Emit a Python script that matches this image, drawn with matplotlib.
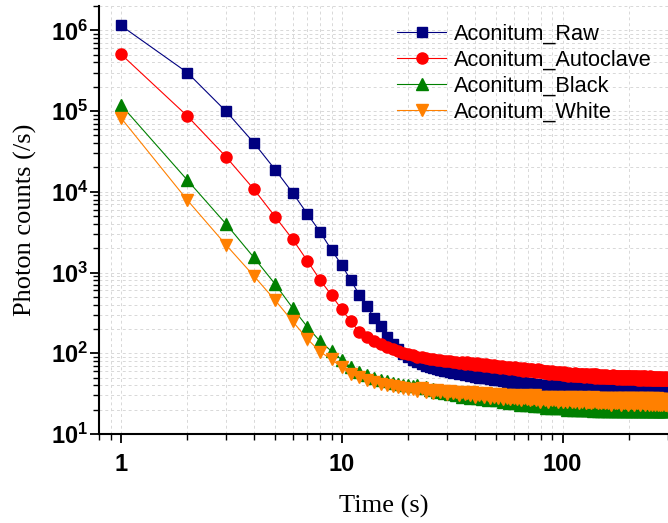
import numpy as np
import matplotlib
matplotlib.use('Agg')
import matplotlib.pyplot as plt
from matplotlib.ticker import LogLocator, FixedLocator, FixedFormatter, NullFormatter

plt.rcParams['mathtext.fontset'] = 'custom'
plt.rcParams['mathtext.bf'] = 'Liberation Sans:bold'
plt.rcParams['mathtext.rm'] = 'Liberation Sans'

# time in seconds, one reading per second
time_s = np.arange(1, 301)

raw = [
    1150000, 300000, 99000, 40600, 18800, 9700, 5300, 3160, 1900, 1240,
    804, 533, 381, 275, 215, 161, 131, 113, 98, 89,
    82, 77, 73, 70, 67, 65, 63, 62, 61, 60,
    59, 57, 58, 55, 57, 54, 55, 53, 54, 51,
    53, 50, 52, 49, 51, 50, 48, 50, 47, 49,
    46, 48, 47, 45, 47, 44, 46, 45, 43, 45,
    44, 42, 45, 43, 42, 44, 41, 43, 42, 41,
    43, 40, 42, 41, 40, 42, 39, 41, 40, 39,
    41, 39, 40, 38, 41, 39, 38, 40, 39, 38,
    40, 38, 39, 37, 39, 38, 37, 39, 38, 37,
    39, 37, 38, 36, 38, 37, 36, 38, 37, 36,
    38, 36, 37, 35, 37, 36, 38, 36, 35, 37,
    36, 35, 37, 36, 34, 36, 35, 37, 35, 36,
    34, 36, 35, 37, 35, 34, 36, 35, 34, 36,
    35, 36, 34, 35, 33, 35, 36, 34, 35, 33,
    35, 34, 36, 34, 33, 35, 34, 35, 33, 34,
    36, 34, 33, 35, 34, 33, 35, 34, 36, 33,
    34, 35, 33, 34, 32, 34, 35, 33, 34, 33,
    35, 33, 34, 32, 34, 35, 33, 34, 33, 35,
    33, 34, 32, 34, 35, 33, 32, 34, 33, 35,
    34, 32, 33, 35, 33, 34, 32, 33, 35, 33,
    32, 34, 33, 35, 32, 33, 34, 32, 33, 35,
    33, 32, 34, 33, 31, 34, 33, 35, 32, 33,
    34, 32, 33, 35, 33, 32, 34, 33, 31, 34,
    33, 35, 32, 33, 34, 32, 33, 31, 34, 33,
    32, 34, 33, 35, 32, 33, 31, 34, 33, 32,
    34, 33, 32, 34, 31, 33, 34, 32, 33, 35,
    32, 33, 31, 34, 33, 32, 34, 33, 31, 33,
    34, 32, 33, 31, 34, 33, 32, 34, 32, 33,
    31, 33, 34, 32, 33, 31, 34, 32, 33, 32,
]

autoclave = [
    510000, 87000, 27000, 10800, 4900, 2580, 1390, 804, 522, 350,
    250, 183, 158, 141, 129, 119, 112, 106, 101, 97,
    94, 91, 89, 87, 86, 84, 83, 82, 81, 80,
    80, 77, 79, 75, 78, 74, 77, 73, 76, 72,
    75, 71, 74, 70, 73, 69, 72, 68, 71, 67,
    70, 66, 69, 67, 65, 68, 64, 67, 65, 63,
    67, 64, 62, 66, 63, 61, 65, 62, 64, 60,
    63, 61, 64, 60, 62, 59, 63, 60, 58, 62,
    59, 61, 57, 60, 58, 61, 56, 59, 58, 60,
    56, 59, 57, 55, 58, 56, 59, 55, 57, 54,
    58, 55, 57, 54, 56, 53, 57, 55, 54, 56,
    53, 56, 54, 57, 53, 55, 52, 56, 54, 53,
    56, 52, 55, 53, 51, 55, 54, 52, 56, 53,
    51, 54, 52, 55, 53, 51, 54, 52, 55, 50,
    53, 55, 51, 53, 52, 50, 54, 52, 51, 53,
    50, 54, 52, 51, 53, 49, 52, 54, 50, 52,
    53, 50, 52, 49, 53, 51, 52, 50, 54, 51,
    49, 52, 51, 53, 50, 48, 52, 51, 49, 53,
    50, 52, 48, 51, 53, 50, 49, 52, 51, 48,
    52, 50, 53, 49, 51, 48, 52, 50, 49, 52,
    50, 48, 51, 53, 49, 51, 50, 48, 52, 50,
    49, 52, 50, 48, 51, 49, 52, 50, 47, 51,
    50, 48, 52, 49, 51, 50, 47, 51, 49, 52,
    48, 50, 49, 51, 47, 50, 52, 48, 50, 49,
    51, 48, 50, 47, 51, 49, 50, 48, 52, 49,
    47, 50, 49, 51, 48, 50, 47, 49, 51, 48,
    50, 49, 47, 51, 48, 50, 49, 47, 50, 48,
    51, 48, 49, 47, 50, 48, 51, 49, 47, 50,
    48, 50, 47, 49, 51, 48, 49, 47, 50, 48,
    49, 47, 50, 48, 51, 47, 49, 48, 50, 47,
]

black = [
    120000, 14000, 3980, 1540, 718, 363, 211, 140, 106, 83,
    67, 59, 54, 50, 47, 45, 43, 42, 41, 40,
    39, 41, 37, 38, 35, 36, 33, 35, 32, 33,
    31, 33, 30, 32, 29, 31, 30, 28, 31, 29,
    28, 30, 27, 29, 28, 26, 29, 27, 28, 26,
    28, 26, 27, 25, 27, 26, 24, 27, 25, 26,
    24, 26, 25, 23, 26, 24, 25, 23, 25, 24,
    23, 25, 24, 22, 24, 23, 25, 22, 24, 23,
    22, 24, 23, 21, 23, 24, 22, 23, 21, 23,
    22, 24, 21, 23, 22, 21, 23, 22, 24, 21,
    22, 23, 21, 22, 20, 23, 22, 21, 23, 21,
    22, 20, 23, 21, 22, 20, 22, 21, 23, 20,
    21, 23, 20, 22, 21, 20, 22, 21, 20, 26,
    21, 20, 22, 21, 20, 22, 19, 21, 22, 20,
    21, 20, 22, 19, 21, 20, 22, 21, 19, 21,
    22, 20, 21, 19, 25, 21, 20, 22, 19, 21,
    20, 22, 19, 21, 20, 21, 19, 22, 20, 21,
    19, 21, 22, 20, 19, 21, 20, 22, 19, 20,
    21, 19, 22, 20, 21, 19, 20, 22, 19, 21,
    20, 22, 19, 21, 20, 19, 21, 20, 22, 19,
    21, 20, 19, 22, 20, 21, 19, 20, 22, 20,
    19, 21, 20, 22, 19, 21, 20, 19, 21, 20,
    22, 19, 21, 20, 19, 21, 22, 20, 19, 21,
    20, 19, 22, 20, 21, 19, 20, 21, 19, 25,
    20, 21, 19, 20, 22, 19, 21, 20, 19, 21,
    20, 22, 19, 21, 20, 19, 21, 20, 22, 19,
    21, 20, 19, 21, 20, 22, 19, 20, 21, 19,
    20, 21, 19, 22, 20, 19, 21, 20, 19, 21,
    20, 19, 21, 20, 22, 19, 20, 21, 19, 20,
    21, 19, 20, 22, 19, 20, 21, 19, 20, 21,
]

white = [
    83000, 7900, 2190, 910, 453, 248, 150, 104, 84, 67,
    55, 51, 47, 44, 42, 40, 39, 38, 37, 36,
    36, 34, 37, 33, 35, 32, 35, 33, 34, 31,
    34, 32, 33, 30, 33, 31, 32, 30, 33, 29,
    32, 30, 31, 29, 32, 30, 28, 31, 29, 30,
    28, 31, 29, 27, 30, 28, 30, 27, 29, 28,
    30, 27, 29, 28, 26, 29, 28, 30, 27, 28,
    26, 29, 27, 28, 30, 26, 28, 27, 25, 29,
    27, 28, 26, 29, 27, 25, 28, 27, 29, 26,
    28, 26, 27, 29, 25, 28, 26, 27, 28, 25,
    27, 29, 26, 28, 25, 27, 28, 26, 29, 25,
    28, 26, 27, 25, 29, 26, 27, 28, 24, 27,
    26, 28, 25, 27, 29, 26, 24, 27, 28, 25,
    27, 25, 28, 26, 24, 27, 29, 25, 26, 28,
    25, 27, 26, 24, 28, 26, 27, 25, 28, 24,
    26, 28, 25, 27, 24, 26, 28, 25, 27, 26,
    24, 27, 26, 28, 25, 23, 27, 26, 25, 28,
    26, 24, 27, 25, 28, 26, 24, 27, 25, 26,
    28, 25, 23, 27, 26, 24, 28, 25, 27, 24,
    26, 28, 25, 24, 27, 26, 23, 27, 25, 28,
    25, 24, 27, 26, 28, 24, 26, 25, 27, 23,
    26, 28, 24, 26, 25, 27, 24, 28, 25, 26,
    24, 27, 25, 23, 27, 26, 24, 28, 25, 26,
    27, 24, 26, 25, 28, 23, 26, 25, 27, 24,
    26, 28, 24, 25, 27, 23, 26, 27, 24, 26,
    25, 27, 23, 26, 24, 28, 25, 26, 24, 27,
    23, 26, 25, 27, 24, 26, 28, 24, 25, 23,
    26, 25, 27, 24, 26, 23, 27, 25, 24, 26,
    25, 27, 23, 26, 24, 25, 27, 24, 26, 23,
    25, 26, 24, 27, 23, 25, 26, 24, 22, 25,
]

series_labels = ['Aconitum_Raw', 'Aconitum_Autoclave', 'Aconitum_Black', 'Aconitum_White']
colors = ['#000080', '#FF0000', '#008000', '#FF8000']
markers = ['s', 'o', '^', 'v']
msizes = [7.2, 8.0, 8.2, 8.2]

y_major = [10, 100, 1000, 1e4, 1e5, 1e6]
y_major_labels = [r'$\mathbf{10^{%d}}$' % k for k in range(1, 7)]
x_major = [1, 10, 100]
x_major_labels = ['1', '10', '100']

fig = plt.figure(figsize=(6.68, 5.23), dpi=100)
ax = fig.add_axes([0.1487, 0.1702, 0.8513, 0.8183])

for ys, lab, c, m, ms in zip([raw, autoclave, black, white], series_labels, colors, markers, msizes):
    ax.plot(time_s, ys, color=c, marker=m, markersize=ms, markeredgecolor=c,
            markerfacecolor=c, linewidth=0.8, label=lab, zorder=3)

ax.set_xscale('log')
ax.set_yscale('log')
ax.set_xlim(0.8, 300)
ax.set_ylim(10, 2.0e6)

ax.xaxis.set_major_locator(FixedLocator(x_major))
ax.xaxis.set_major_formatter(FixedFormatter(x_major_labels))
ax.xaxis.set_minor_locator(LogLocator(base=10, subs=np.arange(2, 10), numticks=20))
ax.xaxis.set_minor_formatter(NullFormatter())
ax.yaxis.set_major_locator(FixedLocator(y_major))
ax.yaxis.set_major_formatter(FixedFormatter(y_major_labels))
ax.yaxis.set_minor_locator(LogLocator(base=10, subs=np.arange(2, 10), numticks=20))
ax.yaxis.set_minor_formatter(NullFormatter())

ax.grid(True, which='both', linestyle=(0, (3, 3)), color='#d8d8d8', linewidth=0.7, zorder=0)
ax.set_axisbelow(True)

for side in ['top', 'right']:
    ax.spines[side].set_visible(False)
for side in ['left', 'bottom']:
    ax.spines[side].set_linewidth(1.5)

ax.tick_params(which='major', direction='out', length=6.5, width=1.3)
ax.tick_params(which='minor', direction='out', length=4, width=1.0)
ax.tick_params(axis='x', which='major', pad=7)
ax.tick_params(axis='y', which='major', pad=1.5)
for lbl in ax.get_xticklabels():
    lbl.set_fontfamily('Liberation Sans')
    lbl.set_fontweight('bold')
    lbl.set_fontsize(17)
for lbl in ax.get_yticklabels():
    lbl.set_fontsize(17)

ax.set_xlabel('Time (s)', fontfamily='Liberation Serif', fontsize=19, labelpad=14)
ax.set_ylabel('Photon counts (/s)', fontfamily='Liberation Serif', fontsize=19, labelpad=10)

leg = ax.legend(loc='upper left', bbox_to_anchor=(397 / 668, 1 - 24 / 523),
                bbox_transform=fig.transFigure, frameon=False, borderpad=0,
                borderaxespad=0, handlelength=2.25, handletextpad=0.35,
                labelspacing=0.22, prop={'family': 'Liberation Sans', 'size': 15.7})

fig.savefig('out.png', dpi=100)
